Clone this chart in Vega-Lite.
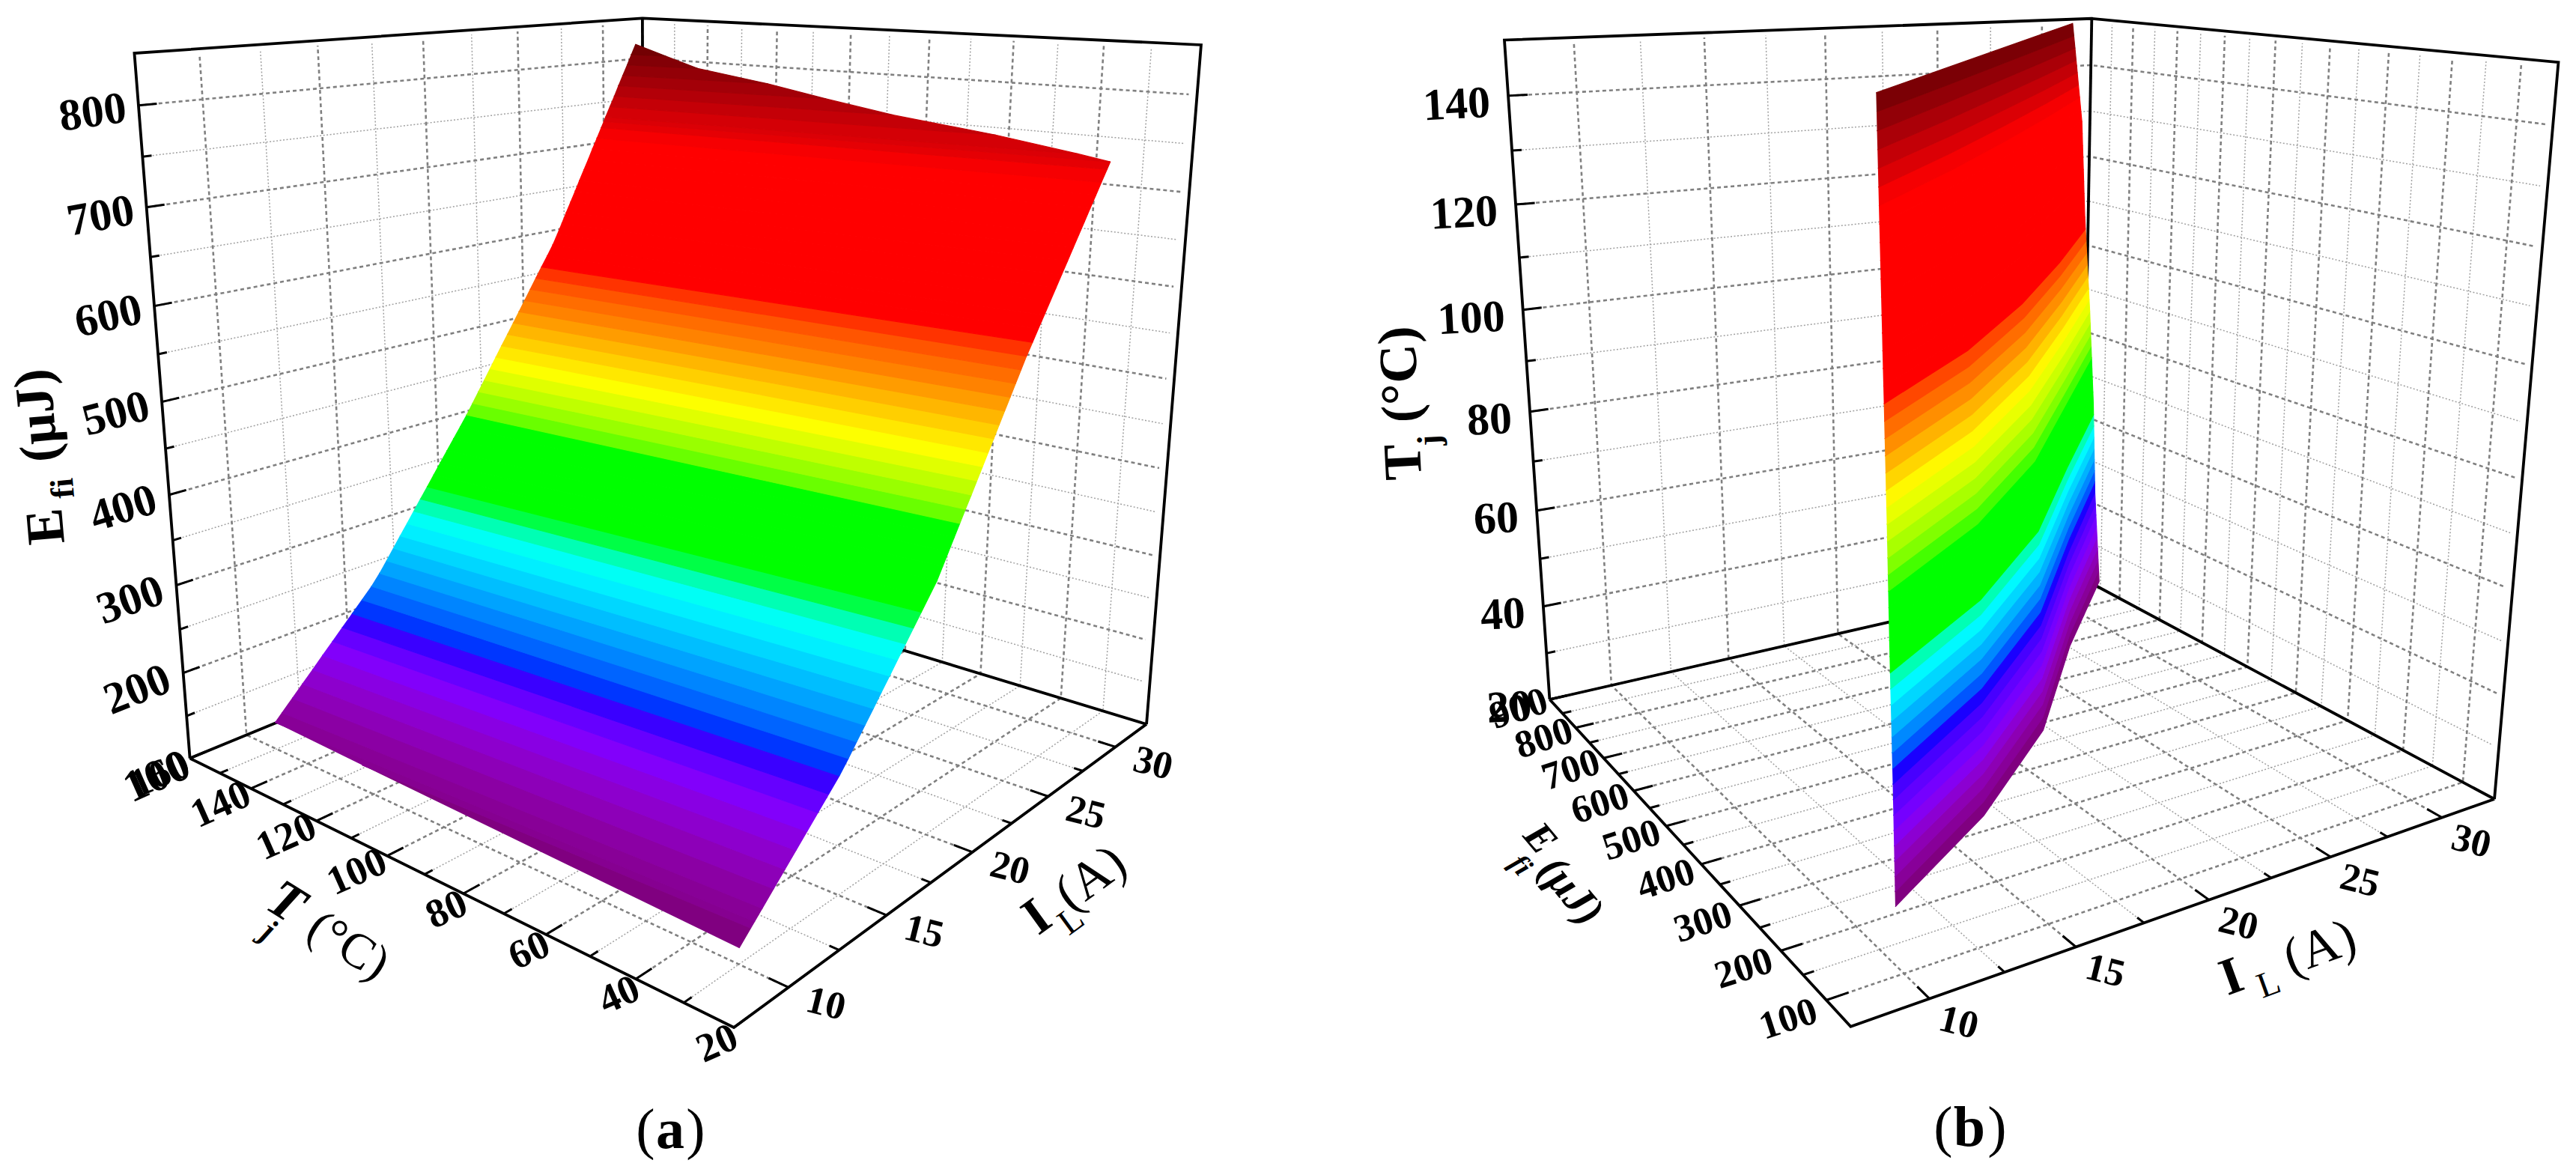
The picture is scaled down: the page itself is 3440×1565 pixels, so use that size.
{"$schema":"https://vega.github.io/schema/vega-lite/v6.json","width":3440,"height":1565,"autosize":{"type":"fit","contains":"padding"},"padding":0,"background":"white","config":{"view":{"stroke":null}},
"datasets":{
"axes":[
{"panel":"a","axis":"w","value":100},{"panel":"a","axis":"w","value":150},{"panel":"a","axis":"w","value":200},{"panel":"a","axis":"w","value":250},{"panel":"a","axis":"w","value":300},{"panel":"a","axis":"w","value":350},{"panel":"a","axis":"w","value":400},{"panel":"a","axis":"w","value":450},{"panel":"a","axis":"w","value":500},{"panel":"a","axis":"w","value":550},{"panel":"a","axis":"w","value":600},{"panel":"a","axis":"w","value":650},{"panel":"a","axis":"w","value":700},{"panel":"a","axis":"w","value":750},{"panel":"a","axis":"w","value":800},
{"panel":"a","axis":"u","value":20},{"panel":"a","axis":"u","value":30},{"panel":"a","axis":"u","value":40},{"panel":"a","axis":"u","value":50},{"panel":"a","axis":"u","value":60},{"panel":"a","axis":"u","value":70},{"panel":"a","axis":"u","value":80},{"panel":"a","axis":"u","value":90},{"panel":"a","axis":"u","value":100},{"panel":"a","axis":"u","value":110},{"panel":"a","axis":"u","value":120},{"panel":"a","axis":"u","value":130},{"panel":"a","axis":"u","value":140},{"panel":"a","axis":"u","value":150},{"panel":"a","axis":"u","value":160},
{"panel":"a","axis":"v","value":10},{"panel":"a","axis":"v","value":12.5},{"panel":"a","axis":"v","value":15},{"panel":"a","axis":"v","value":17.5},{"panel":"a","axis":"v","value":20},{"panel":"a","axis":"v","value":22.5},{"panel":"a","axis":"v","value":25},{"panel":"a","axis":"v","value":27.5},{"panel":"a","axis":"v","value":30},
{"panel":"b","axis":"w","value":20},{"panel":"b","axis":"w","value":30},{"panel":"b","axis":"w","value":40},{"panel":"b","axis":"w","value":50},{"panel":"b","axis":"w","value":60},{"panel":"b","axis":"w","value":70},{"panel":"b","axis":"w","value":80},{"panel":"b","axis":"w","value":90},{"panel":"b","axis":"w","value":100},{"panel":"b","axis":"w","value":110},{"panel":"b","axis":"w","value":120},{"panel":"b","axis":"w","value":130},{"panel":"b","axis":"w","value":140},
{"panel":"b","axis":"u","value":100},{"panel":"b","axis":"u","value":150},{"panel":"b","axis":"u","value":200},{"panel":"b","axis":"u","value":250},{"panel":"b","axis":"u","value":300},{"panel":"b","axis":"u","value":350},{"panel":"b","axis":"u","value":400},{"panel":"b","axis":"u","value":450},{"panel":"b","axis":"u","value":500},{"panel":"b","axis":"u","value":550},{"panel":"b","axis":"u","value":600},{"panel":"b","axis":"u","value":650},{"panel":"b","axis":"u","value":700},{"panel":"b","axis":"u","value":750},{"panel":"b","axis":"u","value":800},{"panel":"b","axis":"u","value":850},{"panel":"b","axis":"u","value":900},
{"panel":"b","axis":"v","value":10},{"panel":"b","axis":"v","value":12.5},{"panel":"b","axis":"v","value":15},{"panel":"b","axis":"v","value":17.5},{"panel":"b","axis":"v","value":20},{"panel":"b","axis":"v","value":22.5},{"panel":"b","axis":"v","value":25},{"panel":"b","axis":"v","value":27.5},{"panel":"b","axis":"v","value":30}
],
"frame":[
{"edge":1,"ord":0,"u":1,"v":0,"w":0},{"edge":1,"ord":1,"u":0,"v":0,"w":0},{"edge":1,"ord":2,"u":0,"v":1,"w":0},
{"edge":2,"ord":0,"u":1,"v":0,"w":0},{"edge":2,"ord":1,"u":1,"v":0,"w":1},{"edge":2,"ord":2,"u":1,"v":1,"w":1},{"edge":2,"ord":3,"u":0,"v":1,"w":1},{"edge":2,"ord":4,"u":0,"v":1,"w":0},
{"edge":3,"ord":0,"u":1,"v":1,"w":1},{"edge":3,"ord":1,"u":1,"v":1,"w":0},
{"edge":4,"ord":0,"u":1,"v":0,"w":0},{"edge":4,"ord":1,"u":1,"v":1,"w":0},{"edge":4,"ord":2,"u":0,"v":1,"w":0}
],
"surfaceA":[
{"E":116,"T1":30,"I1":10,"T2":30,"I2":10},{"E":128,"T1":123,"I1":10,"T2":30,"I2":10.54},{"E":132,"T1":150,"I1":10,"T2":30,"I2":10.72},{"E":140,"T1":150,"I1":10.33,"T2":30,"I2":11.08},{"E":152,"T1":150,"I1":10.83,"T2":30,"I2":11.62},{"E":164,"T1":150,"I1":11.32,"T2":30,"I2":12.16},{"E":176,"T1":150,"I1":11.82,"T2":30,"I2":12.7},{"E":188,"T1":150,"I1":12.31,"T2":30,"I2":13.24},{"E":200,"T1":150,"I1":12.81,"T2":30,"I2":13.78},{"E":212,"T1":150,"I1":13.3,"T2":30,"I2":14.32},{"E":224,"T1":150,"I1":13.8,"T2":30,"I2":14.86},{"E":236,"T1":150,"I1":14.3,"T2":30,"I2":15.32},{"E":248,"T1":150,"I1":14.79,"T2":30,"I2":15.74},{"E":260,"T1":150,"I1":15.21,"T2":30,"I2":16.17},{"E":272,"T1":150,"I1":15.58,"T2":30,"I2":16.6},{"E":284,"T1":150,"I1":15.94,"T2":30,"I2":17.02},{"E":296,"T1":150,"I1":16.3,"T2":30,"I2":17.45},{"E":308,"T1":150,"I1":16.67,"T2":30,"I2":17.87},{"E":320,"T1":150,"I1":17.03,"T2":30,"I2":18.3},{"E":332,"T1":150,"I1":17.39,"T2":30,"I2":18.72},{"E":344,"T1":150,"I1":17.76,"T2":30,"I2":19.15},{"E":356,"T1":150,"I1":18.12,"T2":30,"I2":19.57},{"E":368,"T1":150,"I1":18.48,"T2":30,"I2":20},{"E":380,"T1":150,"I1":18.85,"T2":30,"I2":20.31},{"E":392,"T1":150,"I1":19.21,"T2":30,"I2":20.62},{"E":404,"T1":150,"I1":19.58,"T2":30,"I2":20.93},{"E":416,"T1":150,"I1":19.94,"T2":30,"I2":21.24},{"E":428,"T1":150,"I1":20.28,"T2":30,"I2":21.55},{"E":440,"T1":150,"I1":20.61,"T2":30,"I2":21.87},{"E":452,"T1":150,"I1":20.94,"T2":30,"I2":22.18},{"E":464,"T1":150,"I1":21.27,"T2":30,"I2":22.49},{"E":476,"T1":150,"I1":21.6,"T2":30,"I2":22.8},{"E":488,"T1":150,"I1":21.93,"T2":30,"I2":23.11},{"E":500,"T1":150,"I1":22.27,"T2":30,"I2":23.42},{"E":512,"T1":150,"I1":22.6,"T2":30,"I2":23.73},{"E":524,"T1":150,"I1":22.93,"T2":30,"I2":24.04},{"E":536,"T1":150,"I1":23.26,"T2":30,"I2":24.35},{"E":548,"T1":150,"I1":23.59,"T2":30,"I2":24.66},{"E":560,"T1":150,"I1":23.92,"T2":30,"I2":24.97},{"E":572,"T1":150,"I1":24.25,"T2":30,"I2":25.32},{"E":584,"T1":150,"I1":24.59,"T2":30,"I2":25.66},{"E":596,"T1":150,"I1":24.92,"T2":30,"I2":26.01},{"E":608,"T1":150,"I1":25.2,"T2":30,"I2":26.35},{"E":620,"T1":150,"I1":25.47,"T2":30,"I2":26.7},{"E":632,"T1":150,"I1":25.73,"T2":30,"I2":27.04},{"E":644,"T1":150,"I1":26,"T2":30,"I2":27.39},{"E":656,"T1":150,"I1":26.27,"T2":30,"I2":27.73},{"E":668,"T1":150,"I1":26.53,"T2":30,"I2":28.07},{"E":680,"T1":150,"I1":26.8,"T2":30,"I2":28.42},{"E":692,"T1":150,"I1":27.07,"T2":30,"I2":28.76},{"E":704,"T1":150,"I1":27.33,"T2":30,"I2":29.11},{"E":716,"T1":150,"I1":27.6,"T2":30,"I2":29.45},{"E":728,"T1":150,"I1":27.87,"T2":30,"I2":29.8},{"E":735,"T1":150,"I1":28.02,"T2":30,"I2":30},{"E":740,"T1":150,"I1":28.13,"T2":36.7,"I2":30},{"E":752,"T1":150,"I1":28.4,"T2":55,"I2":30},{"E":764,"T1":150,"I1":28.67,"T2":79.2,"I2":30},{"E":776,"T1":150,"I1":28.93,"T2":96.3,"I2":30},{"E":788,"T1":150,"I1":29.2,"T2":111.8,"I2":30},{"E":800,"T1":150,"I1":29.47,"T2":131.5,"I2":30},{"E":812,"T1":150,"I1":29.73,"T2":140.8,"I2":30},{"E":824,"T1":150,"I1":30,"T2":150,"I2":30}
],
"surfaceB":[
{"Tj":30,"E10":116,"E15":227,"E20":368,"E25":561,"E30":735},{"Tj":32.5,"E10":116.3,"E15":227.5,"E20":369,"E25":561.8,"E30":736.9},{"Tj":35,"E10":116.5,"E15":228,"E20":370,"E25":562.5,"E30":738.8},{"Tj":37.5,"E10":116.8,"E15":228.5,"E20":371,"E25":563.3,"E30":740.6},{"Tj":40,"E10":117,"E15":229,"E20":372,"E25":564,"E30":742.5},{"Tj":42.5,"E10":117.3,"E15":229.5,"E20":373,"E25":564.8,"E30":744.4},{"Tj":45,"E10":117.5,"E15":230,"E20":374,"E25":565.5,"E30":746.3},{"Tj":47.5,"E10":117.8,"E15":230.5,"E20":375,"E25":566.3,"E30":748.1},{"Tj":50,"E10":118,"E15":231,"E20":376,"E25":567,"E30":750},{"Tj":52.5,"E10":118.4,"E15":231.5,"E20":377,"E25":567.8,"E30":751},{"Tj":55,"E10":118.8,"E15":232,"E20":378,"E25":568.5,"E30":752},{"Tj":57.5,"E10":119.1,"E15":232.5,"E20":379,"E25":569.3,"E30":753},{"Tj":60,"E10":119.5,"E15":233,"E20":380,"E25":570,"E30":754},{"Tj":62.5,"E10":119.9,"E15":233.5,"E20":381,"E25":570.8,"E30":755},{"Tj":65,"E10":120.3,"E15":234,"E20":382,"E25":571.5,"E30":756},{"Tj":67.5,"E10":120.6,"E15":234.5,"E20":383,"E25":572.3,"E30":757},{"Tj":70,"E10":121,"E15":235,"E20":384,"E25":573,"E30":758},{"Tj":72.5,"E10":121.3,"E15":236.4,"E20":386.1,"E25":574.4,"E30":759.6},{"Tj":75,"E10":121.5,"E15":237.8,"E20":388.3,"E25":575.8,"E30":761.3},{"Tj":77.5,"E10":121.8,"E15":239.1,"E20":390.4,"E25":577.1,"E30":762.9},{"Tj":80,"E10":122,"E15":240.5,"E20":392.5,"E25":578.5,"E30":764.5},{"Tj":82.5,"E10":122.3,"E15":241.9,"E20":394.6,"E25":579.9,"E30":766.1},{"Tj":85,"E10":122.5,"E15":243.3,"E20":396.8,"E25":581.3,"E30":767.8},{"Tj":87.5,"E10":122.8,"E15":244.6,"E20":398.9,"E25":582.6,"E30":769.4},{"Tj":90,"E10":123,"E15":246,"E20":401,"E25":584,"E30":771},{"Tj":92.5,"E10":123.4,"E15":248,"E20":403.8,"E25":586,"E30":773},{"Tj":95,"E10":123.8,"E15":250,"E20":406.5,"E25":588,"E30":775},{"Tj":97.5,"E10":124.1,"E15":252,"E20":409.3,"E25":590,"E30":777},{"Tj":100,"E10":124.5,"E15":254,"E20":412,"E25":592,"E30":779},{"Tj":102.5,"E10":124.9,"E15":256,"E20":414.8,"E25":594,"E30":781},{"Tj":105,"E10":125.3,"E15":258,"E20":417.5,"E25":596,"E30":783},{"Tj":107.5,"E10":125.6,"E15":260,"E20":420.3,"E25":598,"E30":785},{"Tj":110,"E10":126,"E15":262,"E20":423,"E25":600,"E30":787},{"Tj":112.5,"E10":126.4,"E15":264.8,"E20":426.4,"E25":602.6,"E30":788.4},{"Tj":115,"E10":126.8,"E15":267.5,"E20":429.8,"E25":605.3,"E30":789.8},{"Tj":117.5,"E10":127.1,"E15":270.3,"E20":433.1,"E25":607.9,"E30":791.1},{"Tj":120,"E10":127.5,"E15":273,"E20":436.5,"E25":610.5,"E30":792.5},{"Tj":122.5,"E10":127.9,"E15":275.8,"E20":439.9,"E25":613.1,"E30":793.9},{"Tj":125,"E10":128.3,"E15":278.5,"E20":443.3,"E25":615.8,"E30":795.3},{"Tj":127.5,"E10":128.6,"E15":281.3,"E20":446.6,"E25":618.4,"E30":796.6},{"Tj":130,"E10":129,"E15":284,"E20":450,"E25":621,"E30":798},{"Tj":132.5,"E10":129.4,"E15":286.6,"E20":453.5,"E25":624.8,"E30":801.3},{"Tj":135,"E10":129.8,"E15":289.3,"E20":457,"E25":628.5,"E30":804.5},{"Tj":137.5,"E10":130.1,"E15":291.9,"E20":460.5,"E25":632.3,"E30":807.8},{"Tj":140,"E10":130.5,"E15":294.5,"E20":464,"E25":636,"E30":811},{"Tj":142.5,"E10":130.9,"E15":297.1,"E20":467.5,"E25":639.8,"E30":814.3},{"Tj":145,"E10":131.3,"E15":299.8,"E20":471,"E25":643.5,"E30":817.5},{"Tj":147.5,"E10":131.6,"E15":302.4,"E20":474.5,"E25":647.3,"E30":820.8},{"Tj":150,"E10":132,"E15":305,"E20":478,"E25":651,"E30":824}
]
},
"layer":[
{"encoding":{"x":{"field":"sx","type":"quantitative","scale":{"domain":[0,3440],"nice":false,"zero":false},"axis":null},"y":{"field":"sy","type":"quantitative","scale":{"domain":[1565,0],"nice":false,"zero":false},"axis":null}},
"resolve":{"scale":{"fill":"independent","stroke":"independent"}},
"layer":[
{"data":{"name":"axes"},"transform":[
{"calculate":"datum.axis=='v'?(datum.value-7.5)/25:datum.panel=='a'?(datum.axis=='w'?(datum.value-100)/750:(datum.value-20)/140):(datum.axis=='w'?(datum.value-20)/130:(datum.value-50)/850)","as":"t"},
{"calculate":"datum.axis=='v'?datum.value%5==0:((datum.panel=='a')==(datum.axis=='w')?datum.value%100==0:datum.value%20==0)","as":"major"},
{"calculate":"datum.panel+datum.axis+datum.value","as":"key"},
{"calculate":"datum.axis=='w'?[1,1,0.012]:datum.axis=='u'?[datum.t,datum.t,datum.t]:[0,1,1]","as":"us"},
{"calculate":"datum.axis=='v'?[datum.t,datum.t,datum.t]:[0,1,1]","as":"vs"},
{"calculate":"datum.axis=='w'?[datum.t,datum.t,datum.t]:[0,0,0.993]","as":"ws"},
{"calculate":"[0,1,2]","as":"os"},
{"flatten":["us","vs","ws","os"],"as":["u","v","w","ord"]},
{"calculate":"datum.panel=='a'?0.3193*datum.u+0.3711*datum.v-0.1389*datum.w+1:0.40847*datum.u+0.25637*datum.v-0.13677*datum.w+1","as":"den"},
{"calculate":"(datum.panel=='a'?-645.4*datum.u+1119.2*datum.v-122.8*datum.w+980:443.3*datum.u+1713.6*datum.v-359.9*datum.w+2471.4)/datum.den","as":"sx"},
{"calculate":"(datum.panel=='a'?-36.1*datum.u-46.1*datum.v-1252*datum.w+1372:-55.3*datum.u-30.2*datum.v-1247.5*datum.w+1370.8)/datum.den","as":"sy"}
],"layer":[
{"transform":[{"filter":"!datum.major"}],"mark":{"type":"line","color":"#a0a0a0","strokeWidth":1.5,"strokeDash":[2,2.5]},"encoding":{"detail":{"field":"key"},"order":{"field":"ord"}}},
{"transform":[{"filter":"datum.major"}],"mark":{"type":"line","color":"#808080","strokeWidth":2.6,"strokeDash":[5,4]},"encoding":{"detail":{"field":"key"},"order":{"field":"ord"}}}
]},
{"data":{"name":"axes"},"transform":[
{"calculate":"datum.axis=='v'?(datum.value-7.5)/25:datum.panel=='a'?(datum.axis=='w'?(datum.value-100)/750:(datum.value-20)/140):(datum.axis=='w'?(datum.value-20)/130:(datum.value-50)/850)","as":"t"},
{"calculate":"datum.axis=='v'?datum.value%5==0:((datum.panel=='a')==(datum.axis=='w')?datum.value%100==0:datum.value%20==0)","as":"major"},
{"calculate":"datum.panel+datum.axis+datum.value","as":"key"},
{"calculate":"datum.major?0.028:0.014","as":"len"},
{"calculate":"datum.axis=='w'?[1,1]:datum.axis=='u'?[datum.t,datum.t]:[0,datum.len]","as":"us"},
{"calculate":"datum.axis=='v'?[datum.t,datum.t]:[0,datum.len]","as":"vs"},
{"calculate":"datum.axis=='w'?[datum.t,datum.t]:[0,0]","as":"ws"},
{"calculate":"[0,1]","as":"os"},
{"flatten":["us","vs","ws","os"],"as":["u","v","w","ord"]},
{"calculate":"datum.panel=='a'?0.3193*datum.u+0.3711*datum.v-0.1389*datum.w+1:0.40847*datum.u+0.25637*datum.v-0.13677*datum.w+1","as":"den"},
{"calculate":"(datum.panel=='a'?-645.4*datum.u+1119.2*datum.v-122.8*datum.w+980:443.3*datum.u+1713.6*datum.v-359.9*datum.w+2471.4)/datum.den","as":"sx"},
{"calculate":"(datum.panel=='a'?-36.1*datum.u-46.1*datum.v-1252*datum.w+1372:-55.3*datum.u-30.2*datum.v-1247.5*datum.w+1370.8)/datum.den","as":"sy"}
],"mark":{"type":"line","color":"#000000","strokeWidth":3},"encoding":{"detail":{"field":"key"},"order":{"field":"ord"}}},
{"data":{"name":"frame"},"transform":[
{"calculate":"['a','b']","as":"panels"},
{"flatten":["panels"],"as":["panel"]},
{"calculate":"datum.panel+datum.edge","as":"key"},
{"calculate":"datum.panel=='a'?0.3193*datum.u+0.3711*datum.v-0.1389*datum.w+1:0.40847*datum.u+0.25637*datum.v-0.13677*datum.w+1","as":"den"},
{"calculate":"(datum.panel=='a'?-645.4*datum.u+1119.2*datum.v-122.8*datum.w+980:443.3*datum.u+1713.6*datum.v-359.9*datum.w+2471.4)/datum.den","as":"sx"},
{"calculate":"(datum.panel=='a'?-36.1*datum.u-46.1*datum.v-1252*datum.w+1372:-55.3*datum.u-30.2*datum.v-1247.5*datum.w+1370.8)/datum.den","as":"sy"}
],"mark":{"type":"line","color":"#000000","strokeWidth":3.8,"strokeJoin":"miter"},"encoding":{"detail":{"field":"key"},"order":{"field":"ord"}}},
{"data":{"name":"surfaceA"},"transform":[
{"window":[{"op":"lead","field":"E","as":"En"},{"op":"lead","field":"T1","as":"T1n"},{"op":"lead","field":"I1","as":"I1n"},{"op":"lead","field":"T2","as":"T2n"},{"op":"lead","field":"I2","as":"I2n"}],"sort":[{"field":"E","order":"ascending"}]},
{"filter":"isValid(datum.En)"},
{"calculate":"[datum.T1,datum.T2,datum.T2n,datum.T1n]","as":"Tv"},
{"calculate":"[datum.I1,datum.I2,datum.I2n,datum.I1n]","as":"Iv"},
{"calculate":"[datum.E,datum.E,datum.En,datum.En]","as":"Ev"},
{"calculate":"[0,1,2,3]","as":"os"},
{"flatten":["Tv","Iv","Ev","os"],"as":["Tp","Ip","Ep","ord"]},
{"calculate":"(datum.Tp-20)/140","as":"u"},{"calculate":"(datum.Ip-7.5)/25","as":"v"},{"calculate":"(datum.Ep-100)/750","as":"w"},
{"calculate":"0.3193*datum.u+0.3711*datum.v-0.1389*datum.w+1","as":"den"},
{"calculate":"(-645.4*datum.u+1119.2*datum.v-122.8*datum.w+980)/datum.den","as":"sx"},
{"calculate":"(-36.1*datum.u-46.1*datum.v-1252*datum.w+1372)/datum.den","as":"sy"}
],"mark":{"type":"line","filled":true,"strokeWidth":1.2,"strokeJoin":"round"},"encoding":{"detail":{"field":"E"},"order":{"field":"ord"},
"fill":{"field":"E","type":"quantitative","legend":null,"scale":{"domain":[116,190,218,305,335,405,465,525,568,710,824],"range":["#800080","#8000ff","#0000ff","#00ffff","#00ff00","#00ff00","#ffff00","#ff8000","#ff0000","#ff0000","#640000"]}},
"stroke":{"field":"E","type":"quantitative","legend":null,"scale":{"domain":[116,190,218,305,335,405,465,525,568,710,824],"range":["#800080","#8000ff","#0000ff","#00ffff","#00ff00","#00ff00","#ffff00","#ff8000","#ff0000","#ff0000","#640000"]}}}},
{"data":{"name":"surfaceB"},"transform":[
{"window":[{"op":"lead","field":"Tj","as":"Tn"},{"op":"lead","field":"E10","as":"E10n"},{"op":"lead","field":"E15","as":"E15n"},{"op":"lead","field":"E20","as":"E20n"},{"op":"lead","field":"E25","as":"E25n"},{"op":"lead","field":"E30","as":"E30n"}],"sort":[{"field":"Tj","order":"ascending"}]},
{"filter":"isValid(datum.Tn)"},
{"calculate":"[datum.Tj,datum.Tj,datum.Tj,datum.Tj,datum.Tj,datum.Tn,datum.Tn,datum.Tn,datum.Tn,datum.Tn]","as":"Tv"},
{"calculate":"[10,15,20,25,30,30,25,20,15,10]","as":"Iv"},
{"calculate":"[datum.E10,datum.E15,datum.E20,datum.E25,datum.E30,datum.E30n,datum.E25n,datum.E20n,datum.E15n,datum.E10n]","as":"Ev"},
{"calculate":"[0,1,2,3,4,5,6,7,8,9]","as":"os"},
{"flatten":["Tv","Iv","Ev","os"],"as":["Tp","Ip","Ep","ord"]},
{"calculate":"(datum.Ep-50)/850","as":"u"},{"calculate":"(datum.Ip-7.5)/25","as":"v"},{"calculate":"(datum.Tp-20)/130","as":"w"},
{"calculate":"0.40847*datum.u+0.25637*datum.v-0.13677*datum.w+1","as":"den"},
{"calculate":"(443.3*datum.u+1713.6*datum.v-359.9*datum.w+2471.4)/datum.den","as":"sx"},
{"calculate":"(-55.3*datum.u-30.2*datum.v-1247.5*datum.w+1370.8)/datum.den","as":"sy"}
],"mark":{"type":"line","filled":true,"strokeWidth":1.2,"strokeJoin":"round"},"encoding":{"detail":{"field":"Tj"},"order":{"field":"ord"},
"fill":{"field":"Tj","type":"quantitative","legend":null,"scale":{"domain":[30,41,50.5,63,67,79,92,101,107,134,150],"range":["#800080","#8000ff","#0000ff","#00ffff","#00ff00","#00ff00","#ffff00","#ff8000","#ff0000","#ff0000","#640000"]}},
"stroke":{"field":"Tj","type":"quantitative","legend":null,"scale":{"domain":[30,41,50.5,63,67,79,92,101,107,134,150],"range":["#800080","#8000ff","#0000ff","#00ffff","#00ff00","#00ff00","#ffff00","#ff8000","#ff0000","#ff0000","#640000"]}}}},
{"data":{"name":"axes"},"transform":[
{"calculate":"datum.axis=='v'?(datum.value-7.5)/25:datum.panel=='a'?(datum.axis=='w'?(datum.value-100)/750:(datum.value-20)/140):(datum.axis=='w'?(datum.value-20)/130:(datum.value-50)/850)","as":"t"},
{"filter":"datum.axis=='v'?datum.value%5==0:((datum.panel=='a')==(datum.axis=='w')?datum.value%100==0:datum.value%20==0)"},
{"calculate":"datum.axis=='w'?1:datum.axis=='u'?datum.t:0","as":"u"},
{"calculate":"datum.axis=='v'?datum.t:0","as":"v"},
{"calculate":"datum.axis=='w'?datum.t:0","as":"w"},
{"calculate":"datum.panel=='a'?0.3193*datum.u+0.3711*datum.v-0.1389*datum.w+1:0.40847*datum.u+0.25637*datum.v-0.13677*datum.w+1","as":"den"},
{"calculate":"(datum.panel=='a'?-645.4*datum.u+1119.2*datum.v-122.8*datum.w+980:443.3*datum.u+1713.6*datum.v-359.9*datum.w+2471.4)/datum.den","as":"ex"},
{"calculate":"(datum.panel=='a'?-36.1*datum.u-46.1*datum.v-1252*datum.w+1372:-55.3*datum.u-30.2*datum.v-1247.5*datum.w+1370.8)/datum.den","as":"ey"}
],"encoding":{"text":{"field":"value","type":"quantitative","format":"d"}},"layer":[
{"transform":[{"filter":"datum.panel=='a'&&datum.axis=='w'"},{"calculate":"datum.ex-(datum.value==100?44:61)","as":"sx"},{"calculate":"datum.ey+27-0.021*datum.value","as":"sy"}],"mark":{"type":"text","font":"Liberation Serif","fontWeight":"bold","fontSize":60,"baseline":"middle","align":"center"},"encoding":{"angle":{"field":"value","type":"quantitative","legend":null,"scale":{"domain":[100,800],"range":[336,352]}}}},
{"transform":[{"filter":"datum.panel=='a'&&datum.axis=='u'"},{"calculate":"datum.ex-(datum.value>=100?40:22)","as":"sx"},{"calculate":"datum.ey+22","as":"sy"}],"mark":{"type":"text","font":"Liberation Serif","fontWeight":"bold","fontSize":54,"baseline":"middle","align":"center","angle":336}},
{"transform":[{"filter":"datum.panel=='a'&&datum.axis=='v'"},{"calculate":"datum.ex+50","as":"sx"},{"calculate":"datum.ey+22","as":"sy"}],"mark":{"type":"text","font":"Liberation Serif","fontWeight":"bold","fontSize":52,"baseline":"middle","align":"center","angle":14}},
{"transform":[{"filter":"datum.panel=='b'&&datum.axis=='w'"},{"calculate":"datum.ex-24","as":"sx"},{"calculate":"datum.ey+10","as":"sy"}],"mark":{"type":"text","font":"Liberation Serif","fontWeight":"bold","fontSize":60,"baseline":"middle","align":"right","angle":357}},
{"transform":[{"filter":"datum.panel=='b'&&datum.axis=='u'"},{"calculate":"datum.ex-52+0.012*datum.value","as":"sx"},{"calculate":"datum.ey+27-0.016*datum.value","as":"sy"}],"mark":{"type":"text","font":"Liberation Serif","fontWeight":"bold","fontSize":52,"baseline":"middle","align":"center","angle":342}},
{"transform":[{"filter":"datum.panel=='b'&&datum.axis=='v'"},{"calculate":"datum.ex+39","as":"sx"},{"calculate":"datum.ey+32","as":"sy"}],"mark":{"type":"text","font":"Liberation Serif","fontWeight":"bold","fontSize":52,"baseline":"middle","align":"center","angle":14}}
]}
]},
{"data":{"values":[{"t":"E"}]},"mark":{"type":"text","x":62,"y":703,"angle":265,"font":"Liberation Serif","fontWeight":"bold","fontSize":72,"baseline":"middle","align":"center"},"encoding":{"text":{"field":"t"}}},
{"data":{"values":[{"t":"fi"}]},"mark":{"type":"text","x":85,"y":652,"angle":265,"font":"Liberation Serif","fontWeight":"bold","fontSize":44,"baseline":"middle","align":"center"},"encoding":{"text":{"field":"t"}}},
{"data":{"values":[{"t":"(μJ)"}]},"mark":{"type":"text","x":50,"y":555,"angle":265,"font":"Liberation Serif","fontWeight":"bold","fontSize":72,"baseline":"middle","align":"center"},"encoding":{"text":{"field":"t"}}},
{"data":{"values":[{"t":"T"}]},"mark":{"type":"text","x":382,"y":1205,"angle":32,"font":"Liberation Serif","fontWeight":"bold","fontStyle":"italic","fontSize":72,"baseline":"middle","align":"center"},"encoding":{"text":{"field":"t"}}},
{"data":{"values":[{"t":"j"}]},"mark":{"type":"text","x":358,"y":1244,"angle":32,"font":"Liberation Serif","fontWeight":"bold","fontStyle":"italic","fontSize":44,"baseline":"middle","align":"center"},"encoding":{"text":{"field":"t"}}},
{"data":{"values":[{"t":"(°C)"}]},"mark":{"type":"text","x":465,"y":1263,"angle":32,"font":"Liberation Serif","fontSize":66,"baseline":"middle","align":"center"},"encoding":{"text":{"field":"t"}}},
{"data":{"values":[{"t":"I"}]},"mark":{"type":"text","x":1385,"y":1225,"angle":324,"font":"Liberation Serif","fontSize":70,"fontWeight":"bold","baseline":"middle","align":"center"},"encoding":{"text":{"field":"t"}}},
{"data":{"values":[{"t":"L"}]},"mark":{"type":"text","x":1431,"y":1230,"angle":324,"font":"Liberation Serif","fontSize":48,"baseline":"middle","align":"center"},"encoding":{"text":{"field":"t"}}},
{"data":{"values":[{"t":"(A)"}]},"mark":{"type":"text","x":1457,"y":1173,"angle":324,"font":"Liberation Serif","fontSize":70,"baseline":"middle","align":"center"},"encoding":{"text":{"field":"t"}}},
{"data":{"values":[{"t":"T"}]},"mark":{"type":"text","x":1875,"y":617,"angle":267,"font":"Liberation Serif","fontWeight":"bold","fontSize":72,"baseline":"middle","align":"center"},"encoding":{"text":{"field":"t"}}},
{"data":{"values":[{"t":"j"}]},"mark":{"type":"text","x":1910,"y":588,"angle":267,"font":"Liberation Serif","fontWeight":"bold","fontSize":44,"baseline":"middle","align":"center"},"encoding":{"text":{"field":"t"}}},
{"data":{"values":[{"t":"(°C)"}]},"mark":{"type":"text","x":1870,"y":500,"angle":267,"font":"Liberation Serif","fontWeight":"bold","fontSize":72,"baseline":"middle","align":"center"},"encoding":{"text":{"field":"t"}}},
{"data":{"values":[{"t":"E"}]},"mark":{"type":"text","x":2056,"y":1120,"angle":50,"font":"Liberation Serif","fontWeight":"bold","fontStyle":"italic","fontSize":54,"baseline":"middle","align":"center"},"encoding":{"text":{"field":"t"}}},
{"data":{"values":[{"t":"fi"}]},"mark":{"type":"text","x":2030,"y":1156,"angle":50,"font":"Liberation Serif","fontWeight":"bold","fontStyle":"italic","fontSize":38,"baseline":"middle","align":"center"},"encoding":{"text":{"field":"t"}}},
{"data":{"values":[{"t":"(μJ)"}]},"mark":{"type":"text","x":2097,"y":1190,"angle":50,"font":"Liberation Serif","fontWeight":"bold","fontStyle":"italic","fontSize":58,"baseline":"middle","align":"center"},"encoding":{"text":{"field":"t"}}},
{"data":{"values":[{"t":"I"}]},"mark":{"type":"text","x":2980,"y":1305,"angle":340,"font":"Liberation Serif","fontWeight":"bold","fontSize":70,"baseline":"middle","align":"center"},"encoding":{"text":{"field":"t"}}},
{"data":{"values":[{"t":"L"}]},"mark":{"type":"text","x":3030,"y":1315,"angle":340,"font":"Liberation Serif","fontSize":48,"baseline":"middle","align":"center"},"encoding":{"text":{"field":"t"}}},
{"data":{"values":[{"t":"(A)"}]},"mark":{"type":"text","x":3098,"y":1266,"angle":340,"font":"Liberation Serif","fontSize":70,"baseline":"middle","align":"center"},"encoding":{"text":{"field":"t"}}},
{"data":{"values":[{"t":"("}]},"mark":{"type":"text","x":862,"y":1510,"font":"Liberation Serif","fontSize":76,"baseline":"middle","align":"center"},"encoding":{"text":{"field":"t"}}},
{"data":{"values":[{"t":"a"}]},"mark":{"type":"text","x":895,"y":1510,"font":"Liberation Serif","fontWeight":"bold","fontSize":76,"baseline":"middle","align":"center"},"encoding":{"text":{"field":"t"}}},
{"data":{"values":[{"t":")"}]},"mark":{"type":"text","x":929,"y":1510,"font":"Liberation Serif","fontSize":76,"baseline":"middle","align":"center"},"encoding":{"text":{"field":"t"}}},
{"data":{"values":[{"t":"("}]},"mark":{"type":"text","x":2595,"y":1507,"font":"Liberation Serif","fontSize":76,"baseline":"middle","align":"center"},"encoding":{"text":{"field":"t"}}},
{"data":{"values":[{"t":"b"}]},"mark":{"type":"text","x":2630,"y":1507,"font":"Liberation Serif","fontWeight":"bold","fontSize":76,"baseline":"middle","align":"center"},"encoding":{"text":{"field":"t"}}},
{"data":{"values":[{"t":")"}]},"mark":{"type":"text","x":2667,"y":1507,"font":"Liberation Serif","fontSize":76,"baseline":"middle","align":"center"},"encoding":{"text":{"field":"t"}}}
]}
